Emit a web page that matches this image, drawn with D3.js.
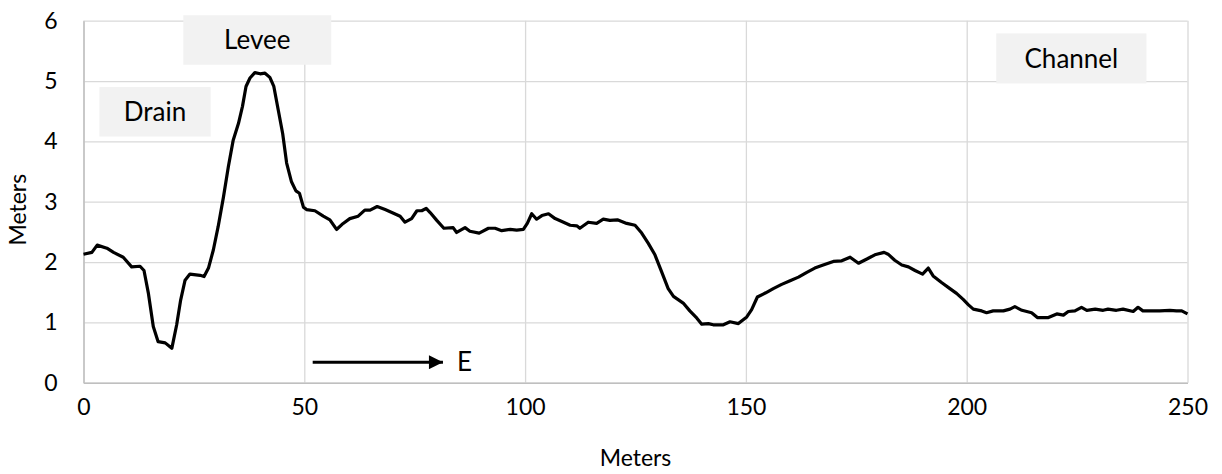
<!DOCTYPE html>
<html>
<head>
<meta charset="utf-8">
<script src="https://cdn.jsdelivr.net/npm/d3@7"></script>
<style>
  html, body { margin: 0; padding: 0; background: #fff; }
  svg { display: block; }
  text { font-family: Lato, "Noto Sans", sans-serif; fill: #000; }
</style>
</head>
<body>
<svg id="chart" width="1222" height="474"></svg>
<script>
// Elevation profile: distance along transect (m) and ground elevation (m)
const distance = [
  0, 1.9, 3.1, 5.3, 6.8, 9.0, 10.9, 12.8, 13.7, 14.7, 15.8, 16.9, 18.5, 20.0,
  21.1, 22.0, 23.0, 24.1, 26.4, 27.3, 28.3, 29.4, 30.5, 31.7, 32.8, 33.9, 35.1,
  36.0, 36.8, 37.7, 38.8, 40.0, 41.1, 42.2, 43.1, 44.1, 45.1, 46.0, 47.1, 48.1,
  48.9, 49.8, 50.5, 52.4, 54.3, 55.8, 57.3, 58.8, 60.3, 62.2, 63.7, 64.9, 66.5,
  68.3, 70.2, 71.7, 72.8, 74.3, 75.5, 76.6, 77.6, 78.5, 80.0, 81.6, 83.7, 84.5,
  86.4, 87.5, 89.6, 91.7, 93.2, 94.7, 96.6, 98.1, 99.6, 100.5, 101.5, 102.6,
  103.8, 105.3, 106.8, 108.7, 110.2, 111.7, 112.4, 114.3, 116.2, 117.7, 119.2,
  120.9, 123.0, 124.9, 126.4, 127.9, 129.4, 130.9, 132.4, 133.6, 135.8, 137.3,
  138.9, 140.0, 141.5, 142.6, 144.9, 146.4, 148.3, 150.2, 151.3, 152.6, 154.5,
  156.2, 158.1, 160.0, 161.9, 163.8, 165.6, 167.5, 169.8, 171.7, 173.6, 175.5,
  177.4, 179.2, 181.3, 182.2, 183.7, 185.3, 186.8, 188.3, 190.0, 191.3, 192.4,
  194.3, 196.2, 197.7, 199.2, 200.4, 201.5, 203.4, 204.5, 206.0, 208.3, 209.8,
  210.9, 212.5, 214.7, 216.0, 218.5, 220.4, 221.9, 223.0, 224.5, 226.0, 227.2,
  229.1, 230.9, 232.0, 233.9, 235.4, 237.7, 238.8, 239.9, 241.8, 243.7, 246.0,
  247.5, 248.7, 250
];
const elevation = [
  2.13, 2.16, 2.28, 2.23, 2.16, 2.08, 1.92, 1.93, 1.86, 1.48, 0.93, 0.68, 0.66, 0.57,
  0.96, 1.37, 1.70, 1.80, 1.78, 1.76, 1.90, 2.20, 2.59, 3.08, 3.58, 4.02, 4.30,
  4.58, 4.91, 5.05, 5.14, 5.12, 5.13, 5.06, 4.91, 4.52, 4.13, 3.64, 3.33, 3.18,
  3.14, 2.91, 2.87, 2.85, 2.76, 2.70, 2.54, 2.64, 2.72, 2.76, 2.86, 2.86, 2.92,
  2.87, 2.81, 2.76, 2.66, 2.72, 2.85, 2.85, 2.89, 2.82, 2.69, 2.56, 2.57, 2.49,
  2.57, 2.51, 2.48, 2.56, 2.56, 2.52, 2.54, 2.53, 2.54, 2.64, 2.80, 2.71,
  2.77, 2.80, 2.72, 2.66, 2.61, 2.60, 2.56, 2.66, 2.64, 2.71, 2.69,
  2.70, 2.64, 2.61, 2.48, 2.31, 2.12, 1.84, 1.56, 1.43, 1.32, 1.19,
  1.07, 0.97, 0.98, 0.96, 0.96, 1.01, 0.98, 1.09, 1.21, 1.42, 1.49,
  1.56, 1.63, 1.69, 1.75, 1.83, 1.90, 1.95, 2.01, 2.02, 2.08, 1.98,
  2.05, 2.12, 2.16, 2.13, 2.03, 1.95, 1.92, 1.86, 1.80, 1.90, 1.77,
  1.66, 1.56, 1.48, 1.38, 1.29, 1.22, 1.19, 1.16, 1.19, 1.19, 1.22,
  1.26, 1.20, 1.16, 1.08, 1.08, 1.14, 1.12, 1.18, 1.19, 1.25, 1.20,
  1.22, 1.20, 1.22, 1.20, 1.22, 1.18, 1.25, 1.19, 1.19, 1.19, 1.20,
  1.19, 1.19, 1.14
];
const xTicks = [0, 50, 100, 150, 200, 250];
const yTicks = [0, 1, 2, 3, 4, 5, 6];
const xTitle = "Meters";
const yTitle = "Meters";
const featureNames = ["Drain", "Levee", "Channel"];
const directionLabel = "E";

const points = distance.map((d, i) => ({ x: d, y: elevation[i] }));

const svg = d3.select("#chart");
const margin = { top: 20.7, right: 34.5, bottom: 91.3, left: 83.5 };
const W = 1222, H = 474;
const innerW = W - margin.left - margin.right;
const innerH = H - margin.top - margin.bottom;

const x = d3.scaleLinear().domain([0, 250]).range([margin.left, margin.left + innerW]);
const y = d3.scaleLinear().domain([0, 6]).range([margin.top + innerH, margin.top]);

const gridColor = "#d9d9d9";
const axisColor = "#bfbfbf";
const fontSize = 23;
const noteSize = 26;

// gridlines
svg.append("g")
  .attr("transform", `translate(0,${y(0)})`)
  .call(d3.axisBottom(x).tickValues(xTicks).tickSize(-innerH).tickFormat(""))
  .call(g => g.select(".domain").remove())
  .call(g => g.selectAll("line").attr("stroke", gridColor).attr("stroke-width", 1.3));

svg.append("g")
  .attr("transform", `translate(${x(0)},0)`)
  .call(d3.axisLeft(y).tickValues(yTicks).tickSize(-innerW).tickFormat(""))
  .call(g => g.select(".domain").remove())
  .call(g => g.selectAll("line").attr("stroke", gridColor).attr("stroke-width", 1.3));

// axis lines and labels
const xAxis = svg.append("g")
  .attr("transform", `translate(0,${y(0)})`)
  .call(d3.axisBottom(x).tickValues(xTicks).tickSize(0).tickPadding(16).tickFormat(d3.format("d")));
xAxis.select(".domain").attr("stroke", axisColor).attr("stroke-width", 1.5);
xAxis.selectAll("text").attr("font-size", fontSize).attr("font-family", "Lato, sans-serif").attr("fill", "#000");

const yAxis = svg.append("g")
  .attr("transform", `translate(${x(0)},0)`)
  .call(d3.axisLeft(y).tickValues(yTicks).tickSize(0).tickPadding(26).tickFormat(d3.format("d")));
yAxis.select(".domain").attr("stroke", axisColor).attr("stroke-width", 1.5);
yAxis.selectAll("text").attr("font-size", fontSize).attr("font-family", "Lato, sans-serif").attr("fill", "#000");

// axis titles
svg.append("text")
  .attr("x", (x(0) + x(250)) / 2)
  .attr("y", 466)
  .attr("text-anchor", "middle")
  .attr("font-size", fontSize)
  .text(xTitle);

svg.append("text")
  .attr("transform", `translate(26,${(y(0) + y(6)) / 2 + 8}) rotate(-90)`)
  .attr("text-anchor", "middle")
  .attr("font-size", fontSize)
  .text(yTitle);

// feature label boxes (positioned in data units)
const featureBoxes = [
  { name: featureNames[0], x0: 3.6, x1: 28.8, y0: 4.08, y1: 4.90 },
  { name: featureNames[1], x0: 22.6, x1: 56.1, y0: 5.27, y1: 6.09 },
  { name: featureNames[2], x0: 206.7, x1: 240.7, y0: 4.96, y1: 5.79 }
];

// profile line
const line = d3.line().x(d => x(d.x)).y(d => y(d.y));
svg.append("path")
  .datum(points)
  .attr("fill", "none")
  .attr("stroke", "#000")
  .attr("stroke-width", 3.2)
  .attr("stroke-linejoin", "round")
  .attr("d", line);

const boxes = svg.append("g").selectAll("g").data(featureBoxes).join("g");
boxes.append("rect")
  .attr("x", d => x(d.x0))
  .attr("y", d => y(d.y1))
  .attr("width", d => x(d.x1) - x(d.x0))
  .attr("height", d => y(d.y0) - y(d.y1))
  .attr("fill", "#f2f2f2");
boxes.append("text")
  .attr("x", d => (x(d.x0) + x(d.x1)) / 2)
  .attr("y", d => (y(d.y0) + y(d.y1)) / 2)
  .attr("dy", "0.35em")
  .attr("text-anchor", "middle")
  .attr("font-size", noteSize)
  .text(d => d.name);

// direction arrow
const arrow = { x0: 51.9, x1: 81.4, yv: 0.34 };
svg.append("defs").append("marker")
  .attr("id", "head")
  .attr("viewBox", "0 0 10 10")
  .attr("refX", 10).attr("refY", 5)
  .attr("markerUnits", "userSpaceOnUse")
  .attr("markerWidth", 15).attr("markerHeight", 14)
  .attr("orient", "auto")
  .append("path").attr("d", "M0,0L10,5L0,10Z").attr("fill", "#000");

svg.append("line")
  .attr("x1", x(arrow.x0)).attr("x2", x(arrow.x1))
  .attr("y1", y(arrow.yv)).attr("y2", y(arrow.yv))
  .attr("stroke", "#000").attr("stroke-width", 3)
  .attr("marker-end", "url(#head)");

svg.append("text")
  .attr("x", x(arrow.x1) + 14)
  .attr("y", y(arrow.yv))
  .attr("dy", "0.35em")
  .attr("font-size", noteSize)
  .text(directionLabel);
</script>
</body>
</html>
